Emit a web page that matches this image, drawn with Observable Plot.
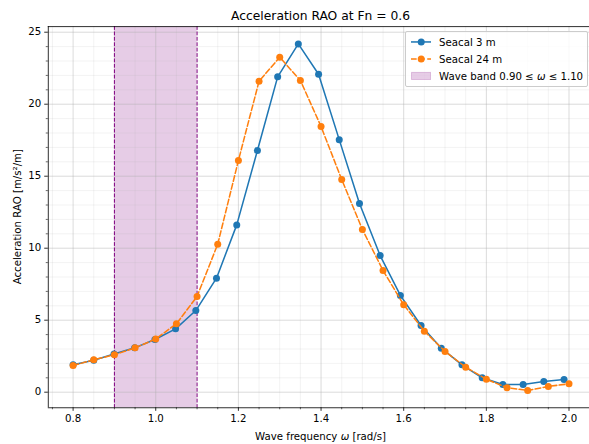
<!DOCTYPE html>
<html><head><meta charset="utf-8">
<script src="https://cdn.jsdelivr.net/npm/d3@7"></script>
<script src="https://cdn.jsdelivr.net/npm/@observablehq/plot@0.6"></script>
<style>
html,body{margin:0;padding:0;background:#fff;overflow:hidden;}
#wrap{position:relative;width:589px;height:444px;font-family:"DejaVu Sans",sans-serif;color:#000;}
#legend{position:absolute;right:0.8px;top:31.2px;padding:4.1px;border:1px solid #cccccc;border-radius:2px;background:rgba(255,255,255,0.8);font-size:10.2px;}
.row{display:flex;align-items:center;height:11.9px;white-space:nowrap;}
.row + .row{margin-top:5.1px;}
.row svg{margin-right:8.2px;flex:none;}
</style></head><body><div id="wrap"></div>
<script>
// Seacal 3 m
const freq3 = [0.800,0.850,0.899,0.949,0.998,1.048,1.097,1.147,1.196,1.246,1.295,1.345,1.394,1.444,1.493,1.543,1.592,1.642,1.691,1.741,1.790,1.840,1.889,1.939,1.988];
const rao3  = [1.90,2.22,2.66,3.08,3.66,4.40,5.67,7.92,11.62,16.78,21.90,24.19,22.08,17.54,13.10,9.49,6.72,4.63,3.06,1.90,1.00,0.53,0.53,0.74,0.88];
// Seacal 24 m
const freq24 = [0.80,0.85,0.90,0.95,1.00,1.05,1.10,1.15,1.20,1.25,1.30,1.35,1.40,1.45,1.50,1.55,1.60,1.65,1.70,1.75,1.80,1.85,1.90,1.95,2.00];
const rao24  = [1.85,2.25,2.60,3.08,3.70,4.75,6.65,10.28,16.09,21.60,23.26,21.65,18.45,14.77,11.30,8.45,6.07,4.24,2.83,1.74,0.90,0.31,0.12,0.40,0.58];
// wave band
const band = [0.90, 1.10];
// ticks
const xMajor = [0.8,1.0,1.2,1.4,1.6,1.8,2.0];
const xMinor = [0.75,0.85,0.9,0.95,1.05,1.1,1.15,1.25,1.3,1.35,1.45,1.5,1.55,1.65,1.7,1.75,1.85,1.9,1.95];
const yMajor = [0,5,10,15,20,25];
const yMinor = d3.range(0,26).filter(v => v % 5 !== 0);
const seriesNames = ["Seacal 3 m","Seacal 24 m"];
const titleText = "Acceleration RAO at Fn = 0.6";

const blue = "#1f77b4", orange = "#ff7f0e", purple = "#800080";
const s3 = freq3.map((x,i)=>({x, y: rao3[i]}));
const s24 = freq24.map((x,i)=>({x, y: rao24[i]}));

const W = 589, H = 444;
const mL = 47.8, mT = 26.1, mB = 36.75;
const xDom = [0.74, 2.06], yDom = [-1.08, 25.39];

const plot = Plot.plot({
  width: W, height: H,
  marginLeft: mL, marginRight: 0, marginTop: mT, marginBottom: mB,
  x: {domain: xDom, range: [mL, 593.3]},
  y: {domain: yDom, range: [H - mB, mT]},
  style: {fontFamily: "DejaVu Sans", fontSize: "10.2px", color: "#000", background: "#fff", overflow: "hidden"},
  marks: [
    Plot.rect([{x1: band[0], x2: band[1]}], {x1: "x1", x2: "x2", fill: purple, fillOpacity: 0.2}),
    Plot.gridX(xMinor, {stroke: "#b0b0b0", strokeOpacity: 0.2, strokeWidth: 0.8}),
    Plot.gridY(yMinor, {stroke: "#b0b0b0", strokeOpacity: 0.2, strokeWidth: 0.8}),
    Plot.gridX(xMajor, {stroke: "#b0b0b0", strokeOpacity: 0.45, strokeWidth: 1}),
    Plot.gridY(yMajor, {stroke: "#b0b0b0", strokeOpacity: 0.45, strokeWidth: 1}),
    Plot.ruleX(band, {stroke: purple, strokeWidth: 1, strokeDasharray: "3.8,1.6"}),
    Plot.line(s3, {x: "x", y: "y", stroke: blue, strokeWidth: 1.53}),
    Plot.dot(s3, {x: "x", y: "y", r: 3.5, fill: blue}),
    Plot.line(s24, {x: "x", y: "y", stroke: orange, strokeWidth: 1.53, strokeDasharray: "5.67,2.45"}),
    Plot.dot(s24, {x: "x", y: "y", r: 3.5, fill: orange}),
    Plot.axisX(xMinor, {tickSize: 2.04, tickFormat: () => "", label: null, strokeWidth: 0.6}),
    Plot.axisY(yMinor, {tickSize: 2.04, tickFormat: () => "", label: null, strokeWidth: 0.6}),
    Plot.axisX(xMajor, {tickSize: 3.58, tickPadding: 3.4, tickFormat: d3.format(".1f"), label: null, fontSize: 10.2, strokeWidth: 0.82}),
    Plot.axisY(yMajor, {tickSize: 3.58, tickPadding: 3.58, tickFormat: d => String(d), label: null, fontSize: 10.2, strokeWidth: 0.82}),
    Plot.ruleY([yDom[0]], {stroke: "#000", strokeWidth: 0.82}),
    Plot.ruleY([yDom[1]], {stroke: "#000", strokeWidth: 0.82}),
    Plot.ruleX([xDom[0]], {stroke: "#000", strokeWidth: 0.82})
  ]
});

const wrap = document.getElementById("wrap");
wrap.appendChild(plot);
const svg = d3.select(plot);
const cx = (mL + 593.3) / 2;
svg.append("text").attr("x", cx).attr("y", 20).attr("text-anchor", "middle")
  .attr("font-size", 12.3).attr("fill", "#000").text(titleText);
const xl = svg.append("text").attr("x", cx).attr("y", 439.6).attr("text-anchor", "middle")
  .attr("font-size", 10.2).attr("fill", "#000");
xl.append("tspan").text("Wave frequency ");
xl.append("tspan").attr("font-style", "italic").text("ω");
xl.append("tspan").text(" [rad/s]");
svg.append("text").attr("transform", `translate(21.3,${(mT + H - mB) / 2}) rotate(-90)`)
  .attr("text-anchor", "middle").attr("font-size", 10.2).attr("fill", "#000")
  .text("Acceleration RAO [m/s²/m]");

// legend
const lg = document.createElement("div");
lg.id = "legend";
lg.innerHTML = `
<div class="row"><svg width="20.4" height="11.9"><line x1="0" x2="20.4" y1="5.95" y2="5.95" stroke="${blue}" stroke-width="1.53"/><circle cx="10.2" cy="5.95" r="3.5" fill="${blue}"/></svg><span>${seriesNames[0]}</span></div>
<div class="row"><svg width="20.4" height="11.9"><line x1="0" x2="20.4" y1="5.95" y2="5.95" stroke="${orange}" stroke-width="1.53" stroke-dasharray="5.67,2.45"/><circle cx="10.2" cy="5.95" r="3.5" fill="${orange}"/></svg><span>${seriesNames[1]}</span></div>
<div class="row"><svg width="20.4" height="11.9"><rect x="0.5" y="2.4" width="19.4" height="7.1" fill="${purple}" fill-opacity="0.2" stroke="${purple}" stroke-opacity="0.2"/></svg><span>Wave band ${band[0].toFixed(2)} ≤ <i>ω</i> ≤ ${band[1].toFixed(2)}</span></div>`;
wrap.appendChild(lg);
</script></body></html>
